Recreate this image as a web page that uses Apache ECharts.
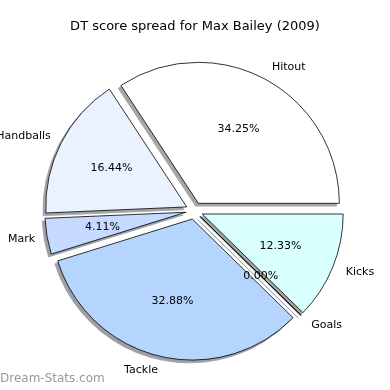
<!DOCTYPE html>
<html><head><meta charset="utf-8">
<script src="https://cdn.jsdelivr.net/npm/echarts@6/dist/echarts.min.js"></script>
<style>html,body{margin:0;padding:0;background:#fff}#c{width:390px;height:390px}</style>
</head><body><div id="c"></div>
<script>
const categories = ['Hitout', 'Handballs', 'Mark', 'Tackle', 'Goals', 'Kicks'];
const values = [25, 12, 3, 24, 0, 9];
const colors = ['#ffffff', '#ebf2ff', '#c6d9ff', '#b5d5ff', '#bdd8ff', '#d9ffff'];
const titleText = 'DT score spread for Max Bailey (2009)';
const watermark = 'Dream-Stats.com';

const total = values.reduce((a, b) => a + b, 0);
const R = 141;
const CX = 194.3, CY = 210.8;
const OFF = 8.5;
const SH = 2.8;
const FONT = 'DejaVu Sans';

// matplotlib-like shadow: 0.3 * face colour at alpha 0.5 over white
function shadowOf(hex) {
  const n = parseInt(hex.slice(1), 16);
  const ch = [(n >> 16) & 255, (n >> 8) & 255, n & 255].map(v => Math.round((0.3 * v + 255) / 2));
  return 'rgb(' + ch.join(',') + ')';
}

const chart = echarts.init(document.getElementById('c'), null, {renderer: 'canvas'});
// cumulative mid-angle decides which side the outer label sits on
let acc = 0;
const mainData = categories.map((n, i) => {
  const mid = (acc + values[i] / 2) / total * 2 * Math.PI;
  acc += values[i];
  const left = Math.cos(mid) < 0;
  return {
    name: n, value: values[i], selected: true,
    itemStyle: {color: colors[i]},
    label: {distanceToLabelLine: left ? -2 : 0}
  };
});
const shadowData = categories.map((n, i) => ({
  name: n, value: values[i], selected: true,
  itemStyle: {color: shadowOf(colors[i]), borderColor: shadowOf(colors[i])}
}));
const pctData = categories.map((n, i) => ({name: n, value: values[i], selected: true}));

const common = {
  type: 'pie', startAngle: 0, clockwise: false,
  selectedMode: 'multiple', selectedOffset: OFF,
  avoidLabelOverlap: false, stillShowZeroSum: true,
  minShowLabelAngle: 0, silent: true,
  emphasis: {disabled: true}
};

chart.setOption({
  animation: false,
  title: {
    text: titleText, left: 'center', top: 15,
    textStyle: {fontFamily: FONT, fontSize: 13, fontWeight: 'normal', color: '#000'}
  },
  graphic: [{
    type: 'text', left: 0, top: 373,
    style: {text: watermark, fill: '#999999', font: '12px "DejaVu Sans"'}
  }],
  series: [Object.assign({}, common, {
    center: [CX - SH, CY + SH], radius: [0, R], z: 1,
    itemStyle: {borderWidth: 0.8},
    label: {show: false}, labelLine: {show: false},
    data: shadowData
  }), Object.assign({}, common, {
    center: [CX, CY], radius: [0, R], z: 2,
    itemStyle: {borderColor: '#000', borderWidth: 0.8},
    label: {
      show: true, position: 'outside', distanceToLabelLine: 0, offset: [0, 1],
      fontFamily: FONT, fontSize: 11, color: '#000', formatter: '{b}'
    },
    labelLine: {show: false, length: 14, length2: 0},
    data: mainData
  }), Object.assign({}, common, {
    center: [CX, CY], radius: [0, 2 * (0.6 * R - 3)], z: 5,
    itemStyle: {color: 'rgba(0,0,0,0)', borderWidth: 0},
    label: {
      show: true, position: 'inside', offset: [0, 1],
      fontFamily: FONT, fontSize: 11, color: '#000',
      formatter: p => (values[p.dataIndex] / total * 100).toFixed(2) + '%'
    },
    labelLine: {show: false},
    data: pctData
  })]
});
</script></body></html>
